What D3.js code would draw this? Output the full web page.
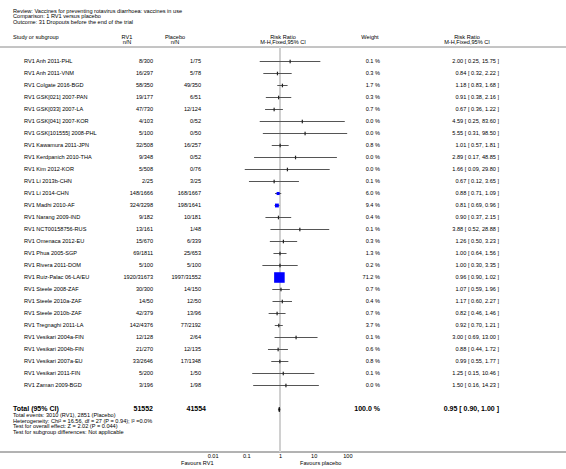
<!DOCTYPE html>
<html><head><meta charset="utf-8">
<script src="https://cdn.jsdelivr.net/npm/d3@7"></script>
<style>
html,body{margin:0;padding:0;background:#fff;}
svg{display:block;font-family:"Liberation Sans",Arial,Helvetica,sans-serif;}
</style></head>
<body>
<svg id="chart" width="566" height="469"></svg>
<script>
const studies = ["RV1 Anh 2011-PHL","RV1 Anh 2011-VNM","RV1 Colgate 2016-BGD","RV1 GSK[021] 2007-PAN","RV1 GSK[033] 2007-LA","RV1 GSK[041] 2007-KOR","RV1 GSK[101555] 2008-PHL","RV1 Kawamura 2011-JPN","RV1 Kerdpanich 2010-THA","RV1 Kim 2012-KOR","RV1 Li 2013b-CHN","RV1 Li 2014-CHN","RV1 Madhi 2010-AF","RV1 Narang 2009-IND","RV1 NCT00158756-RUS","RV1 Omenaca 2012-EU","RV1 Phua 2005-SGP","RV1 Rivera 2011-DOM","RV1 Ruiz-Palac 06-LA/EU","RV1 Steele 2008-ZAF","RV1 Steele 2010a-ZAF","RV1 Steele 2010b-ZAF","RV1 Tregnaghi 2011-LA","RV1 Vesikari 2004a-FIN","RV1 Vesikari 2004b-FIN","RV1 Vesikari 2007a-EU","RV1 Vesikari 2011-FIN","RV1 Zaman 2009-BGD"];
const rv1Events = [8,16,58,19,47,4,5,32,9,5,2,148,324,9,13,15,69,5,1920,30,14,42,142,12,21,33,5,3];
const rv1Total = [300,297,350,177,730,103,100,508,348,508,25,1666,3298,182,161,670,1811,100,31673,300,50,379,4376,128,270,2646,200,196];
const plEvents = [1,5,49,6,12,0,0,16,0,0,3,168,198,10,1,6,25,5,1997,14,12,13,77,2,12,17,1,1];
const plTotal = [75,78,350,51,124,52,50,257,52,76,25,1667,1641,181,48,339,653,100,31552,150,50,96,2192,64,135,1348,50,98];
const weights = [0.1,0.3,1.7,0.3,0.7,0.0,0.0,0.8,0.0,0.0,0.1,6.0,9.4,0.4,0.1,0.3,1.3,0.2,71.2,0.7,0.4,0.7,3.7,0.1,0.6,0.8,0.1,0.0];
const rr = [2.00,0.84,1.18,0.91,0.67,4.59,5.55,1.01,2.89,1.66,0.67,0.88,0.81,0.90,3.88,1.26,1.00,1.00,0.96,1.07,1.17,0.82,0.92,3.00,0.88,0.99,1.25,1.50];
const ciLow = [0.25,0.32,0.83,0.38,0.36,0.25,0.31,0.57,0.17,0.09,0.12,0.71,0.69,0.37,0.52,0.50,0.64,0.30,0.90,0.59,0.60,0.46,0.70,0.69,0.44,0.55,0.15,0.16];
const ciHigh = [15.75,2.22,1.68,2.16,1.22,83.60,98.50,1.81,48.85,29.80,3.65,1.09,0.96,2.15,28.88,3.23,1.56,3.35,1.02,1.96,2.27,1.46,1.21,13.00,1.72,1.77,10.46,14.23];
const totalRV1 = 51552, totalPlacebo = 41554, totalWeight = 100.0;
const totalRR = 0.95, totalLow = 0.90, totalHigh = 1.00;
const tickValues = [0.01,0.1,1,10,100];
const tickLabels = ["0.01","0.1","1","10","100"];
const headerLines = ["Review:  Vaccines for preventing rotavirus diarrhoea: vaccines in use","Comparison:  1 RV1 versus placebo","Outcome:  31 Dropouts before the end of the trial"];
const footLines = ["Total events: 3010 (RV1), 2851 (Placebo)","Heterogeneity: Chi\u00B2 = 16.56, df = 27 (P = 0.94); I\u00B2 =0.0%","Test for overall effect: Z = 2.02 (P = 0.044)","Test for subgroup differences: Not applicable"];

const svg = d3.select("#chart");
const FS = 5.6, FSB = 7;
const x = d3.scaleLog().domain([0.01,100]).range([212.6,347.4]);
const y = d3.scaleLinear().domain([0, studies.length-1]).range([61, 385]);
const yTotal = 409;
const fmt2 = d3.format(".2f"), fmt1 = d3.format(".1f");

function txt(xp, yp, s, opt={}) {
  return svg.append("text").attr("x", xp).attr("y", yp).attr("dy","0.35em")
    .attr("font-size", opt.size||FS).attr("font-weight", opt.bold?"bold":"normal")
    .attr("text-anchor", opt.anchor||"start").attr("fill","#000").text(s);
}

// header info
headerLines.forEach((s,i)=>txt(13, 11 + i*5.3, s));
// column headers
txt(13, 37, "Study or subgroup");
txt(127, 37, "RV1", {anchor:"middle"}); txt(127, 42.5, "n/N", {anchor:"middle"});
txt(175, 37, "Placebo", {anchor:"middle"}); txt(175, 42.5, "n/N", {anchor:"middle"});
txt(283, 37, "Risk Ratio", {anchor:"middle"}); txt(283, 42.5, "M-H,Fixed,95% CI", {anchor:"middle"});
txt(370, 37, "Weight", {anchor:"middle"});
txt(467, 37, "Risk Ratio", {anchor:"middle"}); txt(467, 42.5, "M-H,Fixed,95% CI", {anchor:"middle"});

// horizontal lines
svg.append("line").attr("x1",0).attr("x2",566).attr("y1",47).attr("y2",47).attr("stroke","#8a8a8a").attr("stroke-width",1);
svg.append("line").attr("x1",0).attr("x2",566).attr("y1",452).attr("y2",452).attr("stroke","#666").attr("stroke-width",1);
// reference line
svg.append("line").attr("x1",x(1)).attr("x2",x(1)).attr("y1",47).attr("y2",452).attr("stroke","#d0d0d0").attr("stroke-width",2);

// study rows
studies.forEach((s,i)=>{
  const yy = y(i);
  txt(24, yy, s);
  txt(153, yy, rv1Events[i]+"/"+rv1Total[i], {anchor:"end"});
  txt(201, yy, plEvents[i]+"/"+plTotal[i], {anchor:"end"});
  txt(380, yy, fmt1(weights[i])+" %", {anchor:"end"});
  txt(499, yy, fmt2(rr[i])+" [ "+fmt2(ciLow[i])+", "+fmt2(ciHigh[i])+" ]", {anchor:"end"});
});

const g = svg.append("g");
g.selectAll("line.ci").data(studies).join("line").attr("class","ci")
  .attr("x1",(d,i)=>x(ciLow[i])).attr("x2",(d,i)=>x(ciHigh[i]))
  .attr("y1",(d,i)=>y(i)+0.5).attr("y2",(d,i)=>y(i)+0.5)
  .attr("stroke","#555").attr("stroke-width",1);
g.selectAll("rect.mk").data(studies).join("rect").attr("class","mk")
  .each(function(d,i){
    const side = 1.25*Math.sqrt(weights[i]);
    const r = d3.select(this);
    if (side < 3) {
      r.attr("x", x(rr[i])-0.6).attr("y", y(i)-1.3).attr("width",1.2).attr("height",3.6).attr("fill","#222");
    } else {
      r.attr("x", x(rr[i])-side/2).attr("y", y(i)+0.5-side/2).attr("width",side).attr("height",side).attr("fill","#0000ff");
    }
  });

// total row
txt(13, yTotal, "Total (95% CI)", {bold:true, size:FSB});
txt(153, yTotal, String(totalRV1), {bold:true, size:FSB, anchor:"end"});
txt(206, yTotal, String(totalPlacebo), {bold:true, size:FSB, anchor:"end"});
txt(380, yTotal, fmt1(totalWeight)+" %", {bold:true, size:FSB, anchor:"end"});
txt(499, yTotal, fmt2(totalRR)+" [ "+fmt2(totalLow)+", "+fmt2(totalHigh)+" ]", {bold:true, size:FSB, anchor:"end"});
svg.append("polygon").attr("points", [
  [x(totalLow), yTotal+0.5],[x(totalRR), yTotal-2],[x(totalHigh), yTotal+0.5],[x(totalRR), yTotal+3]
].map(p=>p.join(",")).join(" ")).attr("fill","#000").attr("stroke","#000").attr("stroke-width",0.6);

footLines.forEach((s,i)=>txt(13, 415.5 + i*5.5, s));

// axis
const axis = d3.axisBottom(x).tickValues(tickValues).tickSize(0).tickPadding(2)
  .tickFormat((d,i)=>tickLabels[i]);
const ag = svg.append("g").attr("transform","translate(0,452)").call(axis);
ag.select(".domain").remove();
ag.selectAll("text").attr("font-size",FS).attr("font-family",null).attr("fill","#000");
txt(x(0.01)+1, 462.7, "Favours RV1", {anchor:"end"});
txt(x(1)+20, 462.7, "Favours placebo");
</script>
</body></html>
